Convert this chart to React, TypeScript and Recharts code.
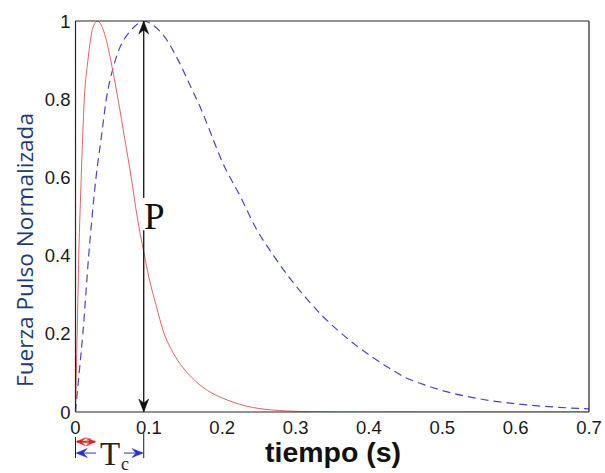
import React from 'react';
import { LineChart, Line, XAxis, YAxis, ReferenceLine, ReferenceDot } from 'recharts';

// ---- data ----
const redT = [0, 0.0023, 0.0045, 0.0078, 0.012, 0.017, 0.022, 0.026, 0.03, 0.035, 0.04, 0.048, 0.058, 0.067, 0.076, 0.084, 0.093, 0.1, 0.11, 0.12, 0.13, 0.143, 0.155, 0.166, 0.18, 0.2, 0.215, 0.233, 0.25, 0.266, 0.29, 0.32, 0.35, 0.4, 0.5, 0.6, 0.7];
const redV = [0, 0.2, 0.4, 0.6, 0.8, 0.9, 0.97, 0.993, 1.0, 0.99, 0.965, 0.9, 0.8, 0.7, 0.6, 0.5, 0.41, 0.345, 0.272, 0.205, 0.162, 0.122, 0.095, 0.075, 0.055, 0.036, 0.025, 0.015, 0.009, 0.0055, 0.0025, 0.0008, 0.0002, 0, 0, 0, 0];

const blueT = [0, 0.005, 0.01, 0.018, 0.028, 0.035, 0.042, 0.052, 0.06, 0.067, 0.075, 0.085, 0.093, 0.105, 0.12, 0.14, 0.155, 0.17, 0.185, 0.2, 0.225, 0.246, 0.27, 0.291, 0.315, 0.337, 0.36, 0.382, 0.405, 0.427, 0.45, 0.475, 0.5, 0.55, 0.6, 0.65, 0.7];
const blueV = [0, 0.1, 0.2, 0.4, 0.6, 0.7, 0.8, 0.885, 0.93, 0.955, 0.975, 0.993, 1.0, 0.99, 0.963, 0.9, 0.84, 0.78, 0.71, 0.64, 0.55, 0.47, 0.4, 0.345, 0.29, 0.245, 0.205, 0.171, 0.14, 0.113, 0.088, 0.07, 0.055, 0.034, 0.021, 0.013, 0.008];

const xTicks = [0, 0.1, 0.2, 0.3, 0.4, 0.5, 0.6, 0.7];
const xTickLabels = ['0', '0.1', '0.2', '0.3', '0.4', '0.5', '0.6', '0.7'];
const yTicks = [0, 0.2, 0.4, 0.6, 0.8, 1];
const yTickLabels = ['0', '0.2', '0.4', '0.6', '0.8', '1'];

// annotation values (data units)
const peakT = 0.093; // P arrow position (blue peak)
const redPeakT = 0.027;

const redData = redT.map((t, i) => ({ t, v: redV[i] }));
const blueData = blueT.map((t, i) => ({ t, v: blueV[i] }));

const W = 605;
const H = 473;
const AXIS = '#262626';
const tickFont = { fill: '#1a1a1a', fontSize: 18.5, fontFamily: '"Liberation Sans", Arial, sans-serif' };

const head = (dir: 'up' | 'down' | 'left' | 'right', color: string, len = 13, half = 5) => (p: any) => {
  const { cx, cy } = p;
  let d = '';
  if (dir === 'up') d = `M${cx},${cy} L${cx - half},${cy + len} L${cx},${cy + len - 4} L${cx + half},${cy + len} Z`;
  if (dir === 'down') d = `M${cx},${cy} L${cx - half},${cy - len} L${cx},${cy - len + 4} L${cx + half},${cy - len} Z`;
  if (dir === 'left') d = `M${cx},${cy} L${cx + len},${cy - half} L${cx + len - 4},${cy} L${cx + len},${cy + half} Z`;
  if (dir === 'right') d = `M${cx},${cy} L${cx - len},${cy - half} L${cx - len + 4},${cy} L${cx - len},${cy + half} Z`;
  return <path d={d} fill={color} stroke={color} strokeWidth={0.5} />;
};

const ax = { xAxisId: 'b', yAxisId: 'l' } as const;

export default function App() {
  return (
    <div style={{ position: 'absolute', left: 0, top: 0, width: W, height: H, background: '#fff' }}>
      <LineChart width={W} height={H} margin={{ top: 21, right: 16, bottom: 0, left: 0 }}>
        <XAxis
          xAxisId="b"
          type="number"
          dataKey="t"
          domain={[0, 0.7]}
          ticks={xTicks}
          interval={0}
          allowDataOverflow
          tickFormatter={(v: number) => xTickLabels[xTicks.indexOf(v)] ?? String(v)}
          tickLine={false}
          tickSize={0}
          tickMargin={9}
          height={61}
          axisLine={{ stroke: AXIS, strokeWidth: 1.2 }}
          tick={tickFont}
        />
        <XAxis xAxisId="bt" type="number" domain={[0, 0.7]} ticks={xTicks} interval={0} allowDataOverflow mirror tick={false} tickSize={5} axisLine={false} tickLine={{ stroke: AXIS }} />
        <XAxis xAxisId="t" orientation="top" type="number" domain={[0, 0.7]} ticks={xTicks} interval={0} allowDataOverflow mirror tick={false} tickSize={5} axisLine={{ stroke: AXIS, strokeWidth: 1.2 }} tickLine={{ stroke: AXIS }} />
        <YAxis
          yAxisId="l"
          type="number"
          domain={[0, 1]}
          ticks={yTicks}
          interval={0}
          allowDataOverflow
          tickFormatter={(v: number) => yTickLabels[yTicks.indexOf(v)] ?? String(v)}
          tickLine={false}
          tickSize={0}
          tickMargin={5}
          width={75.5}
          axisLine={{ stroke: AXIS, strokeWidth: 1.2 }}
          tick={tickFont}
        />
        <YAxis yAxisId="lt" type="number" domain={[0, 1]} ticks={yTicks} interval={0} allowDataOverflow mirror tick={false} tickSize={5} axisLine={false} tickLine={{ stroke: AXIS }} />
        <YAxis yAxisId="r" orientation="right" type="number" domain={[0, 1]} ticks={yTicks} interval={0} allowDataOverflow mirror tick={false} tickSize={5} axisLine={{ stroke: AXIS, strokeWidth: 1.2 }} tickLine={{ stroke: AXIS }} />

        <Line {...ax} data={blueData} dataKey="v" type="monotone" stroke="#4646c8" strokeWidth={1.2} strokeDasharray="8 5" dot={false} isAnimationActive={false} />
        <Line {...ax} data={redData} dataKey="v" type="monotone" stroke="#e06464" strokeWidth={1} dot={false} isAnimationActive={false} />

        {/* P arrow */}
        <ReferenceLine {...ax} ifOverflow="visible" segment={[{ x: peakT, y: 1 }, { x: peakT, y: 0.547 }]} stroke="#111" strokeWidth={1.3} />
        <ReferenceLine {...ax} ifOverflow="visible" segment={[{ x: peakT, y: 0.465 }, { x: peakT, y: 0 }]} stroke="#111" strokeWidth={1.3} />
        <ReferenceDot {...ax} ifOverflow="visible" x={peakT} y={1} shape={head('up', '#111')} />
        <ReferenceDot {...ax} ifOverflow="visible" x={peakT} y={0} shape={head('down', '#111')} />

        {/* T_c annotation below axis */}
        <ReferenceLine {...ax} ifOverflow="visible" segment={[{ x: 0, y: -0.064 }, { x: 0, y: -0.118 }]} stroke="#222" strokeWidth={1} />
        <ReferenceLine {...ax} ifOverflow="visible" segment={[{ x: peakT, y: -0.054 }, { x: peakT, y: -0.118 }]} stroke="#222" strokeWidth={1} />
        <ReferenceLine {...ax} ifOverflow="visible" segment={[{ x: 0.002, y: -0.076 }, { x: redPeakT, y: -0.076 }]} stroke="#e02020" strokeWidth={2} />
        <ReferenceDot {...ax} ifOverflow="visible" x={0.001} y={-0.076} shape={head('left', '#e02020', 9, 4)} />
        <ReferenceDot {...ax} ifOverflow="visible" x={redPeakT} y={-0.076} shape={head('right', '#e02020', 9, 4)} />
        <ReferenceLine {...ax} ifOverflow="visible" segment={[{ x: 0.002, y: -0.105 }, { x: 0.028, y: -0.105 }]} stroke="#2233dd" strokeWidth={1} />
        <ReferenceLine {...ax} ifOverflow="visible" segment={[{ x: 0.066, y: -0.105 }, { x: 0.091, y: -0.105 }]} stroke="#2233dd" strokeWidth={1} />
        <ReferenceDot {...ax} ifOverflow="visible" x={0.001} y={-0.105} shape={head('left', '#1f2fe0', 11, 4.5)} />
        <ReferenceDot {...ax} ifOverflow="visible" x={0.092} y={-0.105} shape={head('right', '#1f2fe0', 11, 4.5)} />
      </LineChart>

      <svg width={W} height={H} style={{ position: 'absolute', left: 0, top: 0, pointerEvents: 'none' }}>
        <text
          transform="translate(32.7,250) rotate(-90)"
          textAnchor="middle"
          fontFamily='"Open Sans", "Noto Sans", sans-serif'
          fontSize={22}
          fill="#1f3b70"
          textLength={274}
          lengthAdjust="spacingAndGlyphs"
        >
          Fuerza Pulso Normalizada
        </text>
        <text x={333} y={462} textAnchor="middle" fontFamily='"Liberation Sans", Arial, sans-serif' fontWeight="bold" fontSize={28} fill="#111" textLength={136} lengthAdjust="spacingAndGlyphs">
          tiempo (s)
        </text>
        <text x={144} y={229} fontFamily='"Liberation Serif", "DejaVu Serif", serif' fontSize={37} fill="#111">P</text>
        <text x={100} y={465} fontFamily='"Liberation Serif", "DejaVu Serif", serif' fontSize={33} fill="#222">T</text>
        <text x={121} y={470} fontFamily='"Liberation Serif", "DejaVu Serif", serif' fontSize={18} fill="#222">c</text>
        <text x={84} y={446} fontFamily='"Liberation Serif", "DejaVu Serif", serif' fontSize={12} fill="#e07070">T</text>
      </svg>
    </div>
  );
}
